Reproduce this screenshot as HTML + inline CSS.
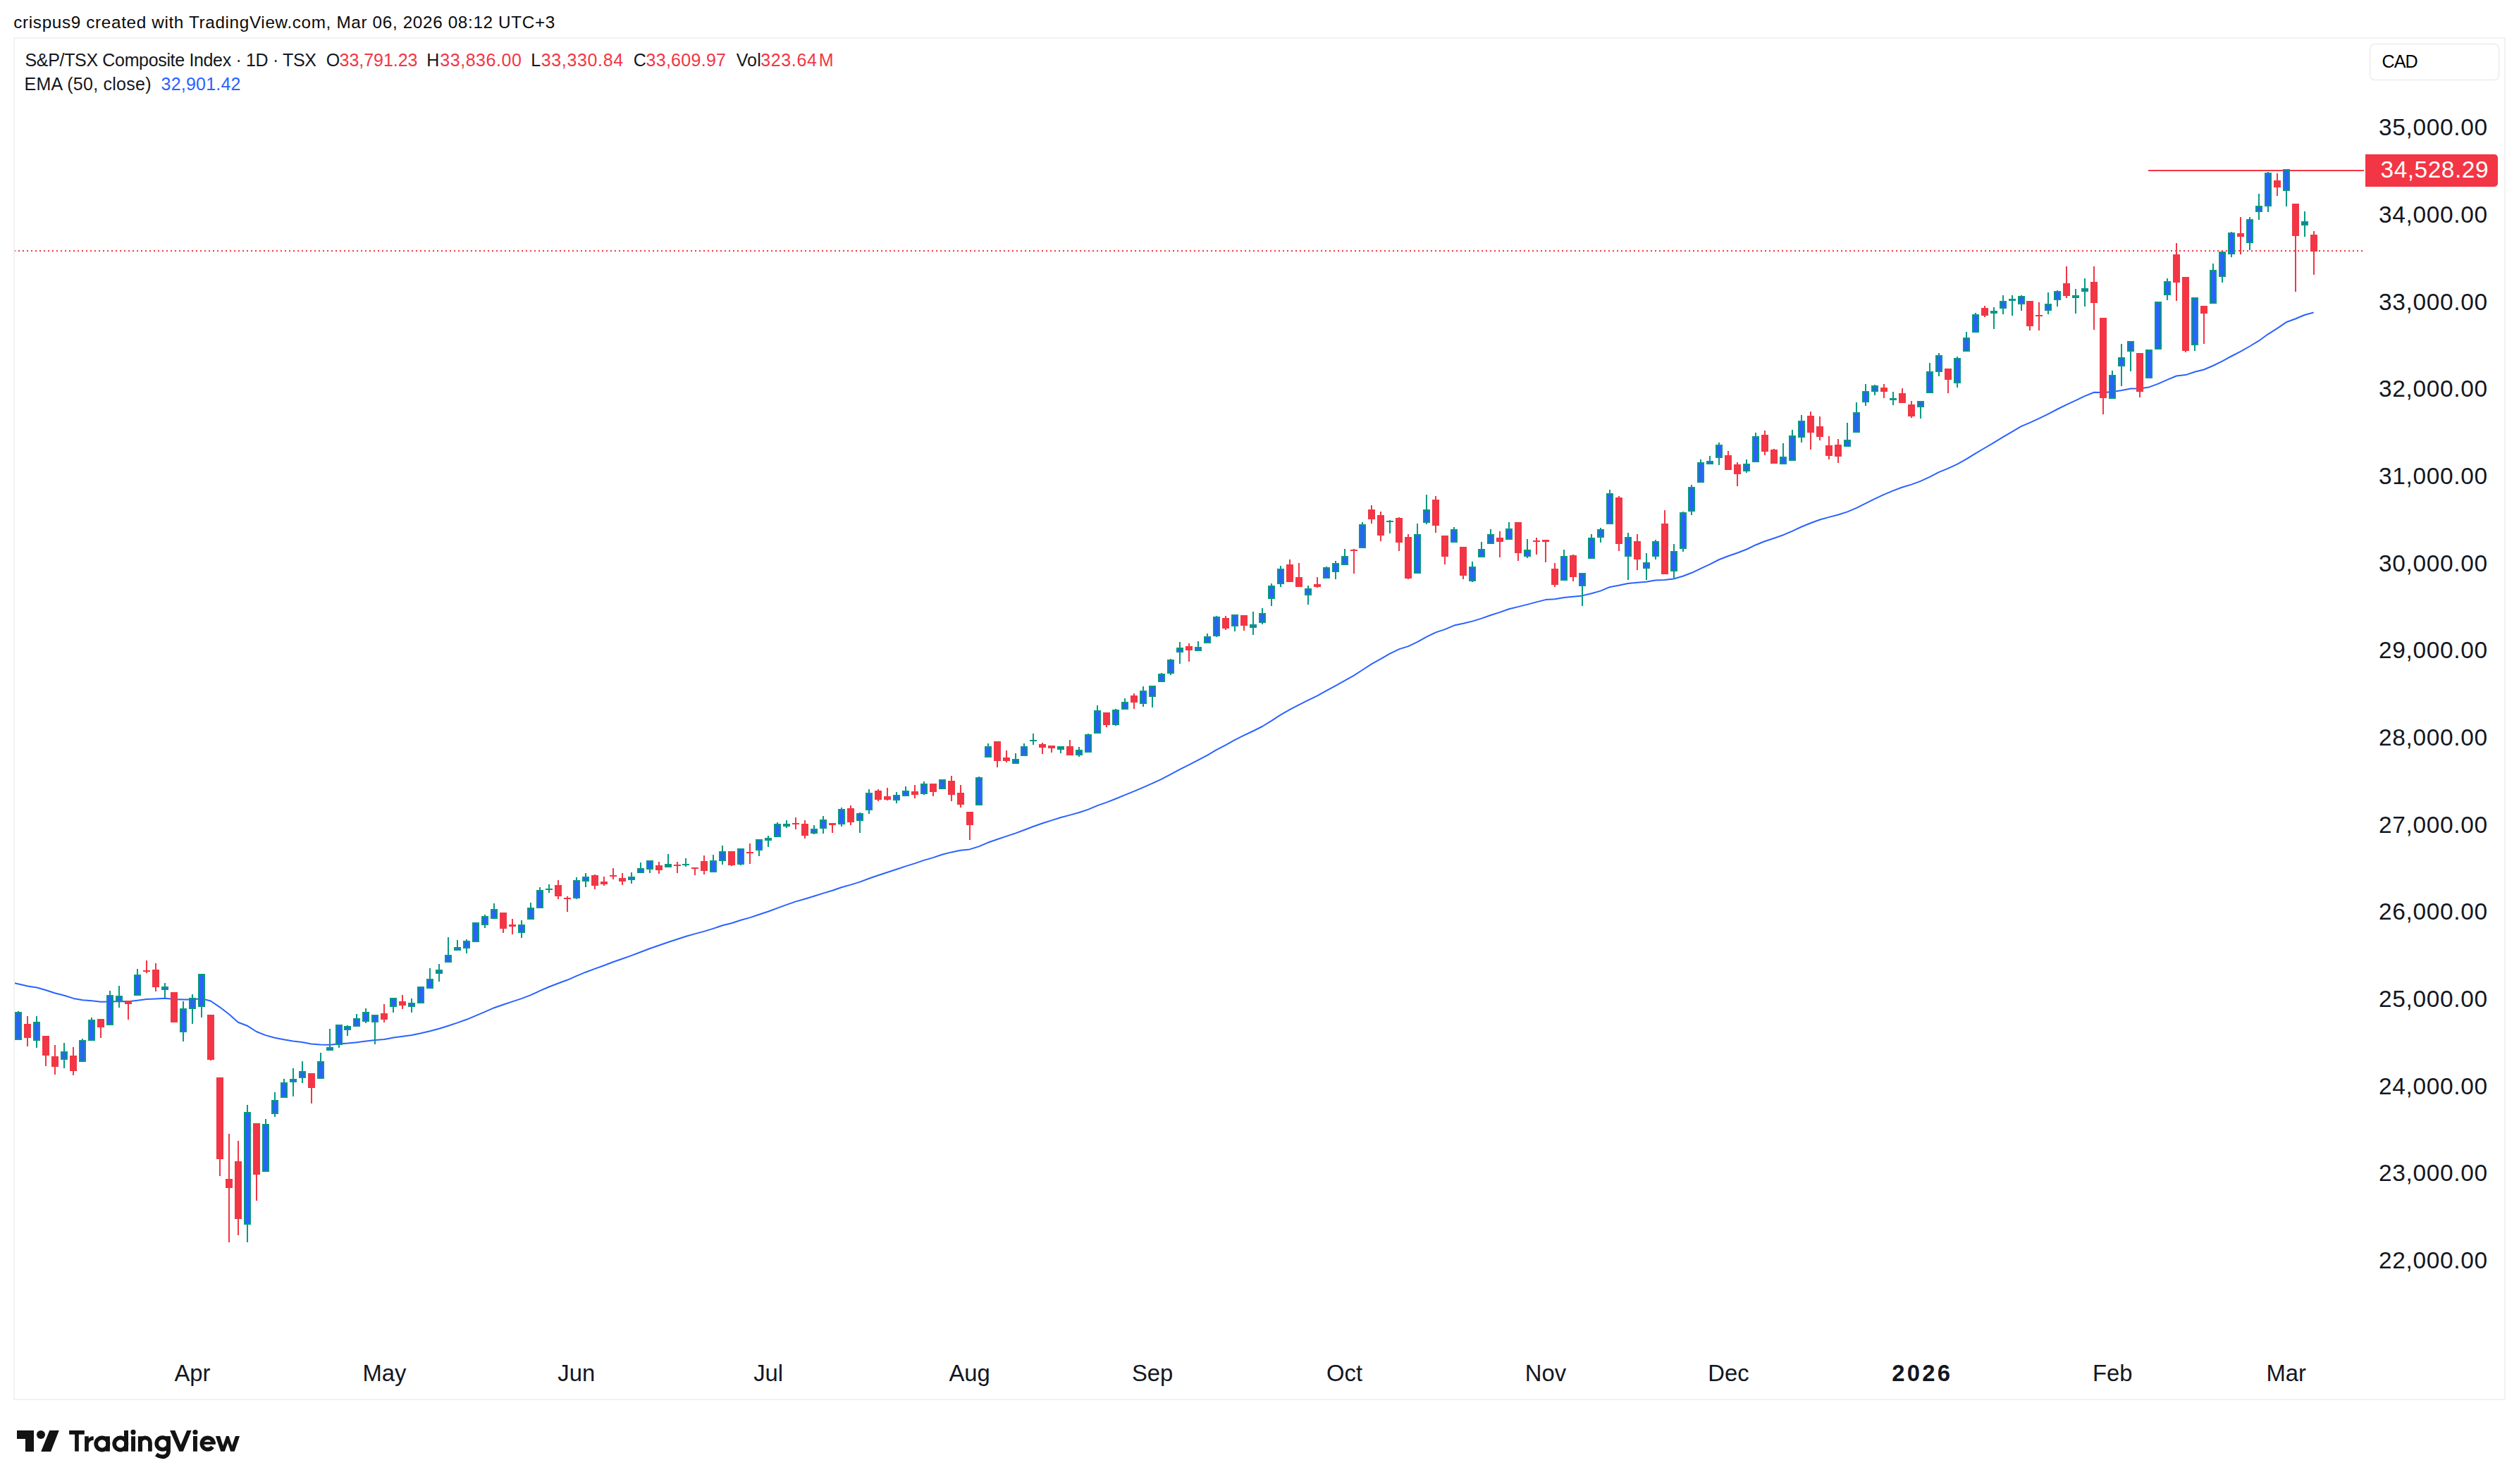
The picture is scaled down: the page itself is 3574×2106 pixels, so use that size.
<!DOCTYPE html>
<html><head><meta charset="utf-8"><title>S&amp;P/TSX Composite Index chart</title>
<style>html,body{margin:0;padding:0;background:#fff;width:3574px;height:2106px;overflow:hidden}body{position:relative;font-family:"Liberation Sans",sans-serif}</style>
</head><body>
<svg width="3574" height="2106" viewBox="0 0 3574 2106" style="position:absolute;left:0;top:0"><defs><clipPath id="pc"><rect x="21" y="55" width="3333" height="1930"/></clipPath></defs><rect x="20" y="54" width="3534" height="1932" fill="none" stroke="#F2F2F2" stroke-width="2"/><g clip-path="url(#pc)" shape-rendering="crispEdges"><line x1="20" y1="356" x2="3354" y2="356" stroke="#F23645" stroke-width="2" stroke-dasharray="2 4"/><rect x="3048" y="241" width="306" height="2" fill="#F23645"/></g><g clip-path="url(#pc)"><path d="M13.5,1393.5 L26.5,1396.5 L39.5,1399.5 L52.4,1401.5 L65.4,1405.2 L78.4,1409.5 L91.3,1412.7 L104.3,1416.9 L117.3,1419.2 L130.3,1420.3 L143.2,1421.8 L156.2,1421.4 L169.2,1421.1 L182.2,1421.2 L195.1,1419.7 L208.1,1418.1 L221.1,1417.4 L234.0,1416.8 L247.0,1418.1 L260.0,1418.6 L273.0,1418.5 L285.9,1417.1 L298.9,1420.5 L311.9,1429.3 L324.9,1439.3 L337.8,1450.7 L350.8,1455.7 L363.8,1464.0 L376.7,1469.1 L389.7,1472.7 L402.7,1475.2 L415.7,1477.4 L428.6,1479.1 L441.6,1481.6 L454.6,1482.6 L467.6,1482.7 L480.5,1481.6 L493.5,1480.6 L506.5,1479.2 L519.4,1477.6 L532.4,1476.1 L545.4,1474.9 L558.4,1472.6 L571.3,1470.8 L584.3,1468.9 L597.3,1466.3 L610.3,1463.2 L623.2,1459.8 L636.2,1455.7 L649.2,1451.4 L662.1,1446.8 L675.1,1441.4 L688.1,1435.9 L701.1,1430.2 L714.0,1425.7 L727.0,1421.4 L740.0,1417.1 L753.0,1412.1 L765.9,1406.2 L778.9,1400.5 L791.9,1395.5 L804.8,1390.8 L817.8,1385.2 L830.8,1379.7 L843.8,1374.9 L856.7,1370.2 L869.7,1365.2 L882.7,1360.7 L895.7,1356.1 L908.6,1351.3 L921.6,1346.2 L934.6,1341.8 L947.5,1337.3 L960.5,1333.0 L973.5,1328.8 L986.5,1325.1 L999.4,1321.6 L1012.4,1317.6 L1025.4,1313.3 L1038.4,1310.0 L1051.3,1305.8 L1064.3,1302.1 L1077.3,1297.8 L1090.2,1293.5 L1103.2,1288.6 L1116.2,1283.9 L1129.2,1279.4 L1142.1,1275.7 L1155.1,1271.8 L1168.1,1267.6 L1181.1,1263.8 L1194.0,1259.2 L1207.0,1255.6 L1220.0,1251.6 L1232.9,1246.7 L1245.9,1242.3 L1258.9,1238.0 L1271.9,1233.7 L1284.8,1229.4 L1297.8,1225.4 L1310.8,1220.9 L1323.8,1217.1 L1336.7,1212.8 L1349.7,1209.4 L1362.7,1206.8 L1375.6,1205.4 L1388.6,1201.4 L1401.6,1195.8 L1414.6,1191.2 L1427.5,1186.9 L1440.5,1182.6 L1453.5,1177.7 L1466.5,1172.7 L1479.4,1168.3 L1492.4,1164.1 L1505.4,1160.0 L1518.3,1156.6 L1531.3,1153.0 L1544.3,1148.6 L1557.3,1143.1 L1570.2,1138.6 L1583.2,1133.5 L1596.2,1128.1 L1609.2,1122.9 L1622.1,1117.3 L1635.1,1111.7 L1648.1,1105.6 L1661.0,1098.9 L1674.0,1091.9 L1687.0,1085.3 L1700.0,1078.7 L1712.9,1071.8 L1725.9,1064.1 L1738.9,1057.3 L1751.9,1050.1 L1764.8,1043.7 L1777.8,1037.5 L1790.8,1031.0 L1803.7,1023.1 L1816.7,1014.6 L1829.7,1007.2 L1842.7,1000.4 L1855.6,993.9 L1868.6,987.6 L1881.6,980.4 L1894.6,973.3 L1907.5,966.1 L1920.5,958.9 L1933.5,950.5 L1946.4,942.1 L1959.4,934.9 L1972.4,927.3 L1985.4,921.1 L1998.3,917.1 L2011.3,910.9 L2024.3,903.6 L2037.3,897.4 L2050.2,893.1 L2063.2,887.6 L2076.2,884.8 L2089.1,881.6 L2102.1,877.6 L2115.1,873.0 L2128.1,868.9 L2141.0,864.2 L2154.0,861.1 L2167.0,857.9 L2180.0,854.4 L2192.9,851.1 L2205.9,850.2 L2218.9,847.9 L2231.8,846.7 L2244.8,845.4 L2257.8,842.2 L2270.8,838.6 L2283.7,833.2 L2296.7,830.8 L2309.7,828.1 L2322.7,826.8 L2335.6,825.7 L2348.6,823.4 L2361.6,823.1 L2374.5,821.5 L2387.5,817.8 L2400.5,812.8 L2413.5,806.6 L2426.4,800.7 L2439.4,794.0 L2452.4,789.0 L2465.4,784.5 L2478.3,779.5 L2491.3,773.2 L2504.3,768.0 L2517.3,763.7 L2530.2,759.2 L2543.2,753.6 L2556.2,747.5 L2569.1,742.3 L2582.1,737.5 L2595.1,733.9 L2608.1,730.5 L2621.0,726.4 L2634.0,720.8 L2647.0,714.3 L2660.0,707.8 L2672.9,701.8 L2685.9,696.4 L2698.9,691.5 L2711.8,687.6 L2724.8,682.9 L2737.8,676.8 L2750.8,670.1 L2763.7,664.9 L2776.7,658.8 L2789.7,651.7 L2802.7,643.6 L2815.6,636.0 L2828.6,628.3 L2841.6,620.4 L2854.5,612.8 L2867.5,605.2 L2880.5,599.6 L2893.5,593.7 L2906.4,587.3 L2919.4,580.5 L2932.4,574.2 L2945.4,568.1 L2958.3,561.9 L2971.3,556.7 L2984.3,557.0 L2997.2,556.0 L3010.2,554.1 L3023.2,551.4 L3036.2,551.5 L3049.1,549.4 L3062.1,544.6 L3075.1,538.9 L3088.1,533.5 L3101.0,532.1 L3114.0,527.8 L3127.0,524.5 L3139.9,519.0 L3152.9,512.6 L3165.9,505.5 L3178.9,498.8 L3191.8,491.5 L3204.8,483.7 L3217.8,474.3 L3230.8,466.1 L3243.7,457.3 L3256.7,452.5 L3269.7,447.0 L3282.6,443.5" fill="none" stroke="#2962FF" stroke-width="2" stroke-linejoin="round"/></g><g clip-path="url(#pc)" shape-rendering="crispEdges"><path d="M25,1435h2v41h-2zM21,1436h10v40h-10zM51,1442h2v45h-2zM47,1450h10v27h-10zM90,1480h2v36h-2zM86,1492h10v12h-10zM116,1474h2v33h-2zM112,1476h10v31h-10zM129,1444h2v33h-2zM125,1447h10v30h-10zM155,1406h2v49h-2zM151,1412h10v43h-10zM168,1399h2v31h-2zM164,1413h10v9h-10zM194,1375h2v38h-2zM190,1383h10v30h-10zM233,1395h2v21h-2zM229,1400h10v5h-10zM259,1421h2v57h-2zM255,1431h10v34h-10zM272,1411h2v42h-2zM268,1416h10v16h-10zM285,1382h2v62h-2zM281,1382h10v47h-10zM350,1568h2v195h-2zM346,1578h10v160h-10zM376,1588h2v75h-2zM372,1595h10v68h-10zM389,1550h2v35h-2zM385,1561h10v20h-10zM402,1531h2v27h-2zM398,1536h10v22h-10zM415,1516h2v40h-2zM411,1531h10v5h-10zM428,1506h2v31h-2zM424,1520h10v10h-10zM454,1494h2v37h-2zM450,1506h10v25h-10zM467,1460h2v31h-2zM463,1486h10v5h-10zM480,1454h2v33h-2zM476,1454h10v29h-10zM492,1455h2v15h-2zM488,1456h10v6h-10zM505,1439h2v18h-2zM501,1445h10v12h-10zM518,1431h2v21h-2zM514,1436h10v14h-10zM531,1440h2v42h-2zM527,1440h10v11h-10zM557,1416h2v21h-2zM553,1416h10v13h-10zM583,1417h2v20h-2zM579,1423h10v6h-10zM596,1400h2v24h-2zM592,1400h10v24h-10zM609,1374h2v29h-2zM605,1389h10v14h-10zM622,1368h2v25h-2zM618,1376h10v6h-10zM635,1330h2v36h-2zM631,1355h10v11h-10zM648,1334h2v15h-2zM644,1344h10v5h-10zM661,1333h2v20h-2zM657,1335h10v11h-10zM674,1309h2v28h-2zM670,1309h10v28h-10zM687,1298h2v19h-2zM683,1300h10v13h-10zM700,1282h2v22h-2zM696,1290h10v14h-10zM739,1306h2v25h-2zM735,1312h10v12h-10zM752,1281h2v24h-2zM748,1288h10v17h-10zM765,1259h2v30h-2zM761,1263h10v26h-10zM778,1255h2v12h-2zM774,1261h10v2h-10zM817,1245h2v31h-2zM813,1249h10v26h-10zM830,1239h2v20h-2zM826,1244h10v7h-10zM895,1238h2v16h-2zM891,1244h10v5h-10zM908,1224h2v15h-2zM904,1232h10v7h-10zM921,1221h2v18h-2zM917,1221h10v13h-10zM947,1212h2v19h-2zM943,1226h10v5h-10zM972,1218h2v12h-2zM968,1226h10v2h-10zM1011,1213h2v25h-2zM1007,1221h10v17h-10zM1024,1200h2v27h-2zM1020,1208h10v14h-10zM1050,1204h2v24h-2zM1046,1204h10v23h-10zM1076,1191h2v24h-2zM1072,1191h10v16h-10zM1089,1186h2v16h-2zM1085,1189h10v4h-10zM1102,1167h2v21h-2zM1098,1169h10v19h-10zM1115,1164h2v11h-2zM1111,1169h10v4h-10zM1154,1171h2v13h-2zM1150,1176h10v7h-10zM1167,1158h2v25h-2zM1163,1163h10v13h-10zM1193,1146h2v27h-2zM1189,1148h10v22h-10zM1219,1153h2v29h-2zM1215,1154h10v11h-10zM1232,1120h2v35h-2zM1228,1125h10v25h-10zM1271,1124h2v16h-2zM1267,1128h10v8h-10zM1284,1116h2v14h-2zM1280,1122h10v8h-10zM1310,1109h2v19h-2zM1306,1112h10v15h-10zM1336,1106h2v14h-2zM1332,1106h10v14h-10zM1388,1102h2v41h-2zM1384,1103h10v40h-10zM1401,1055h2v20h-2zM1397,1059h10v16h-10zM1440,1069h2v15h-2zM1436,1077h10v7h-10zM1452,1055h2v18h-2zM1448,1059h10v14h-10zM1465,1041h2v16h-2zM1461,1050h10v2h-10zM1504,1059h2v10h-2zM1500,1059h10v5h-10zM1530,1060h2v14h-2zM1526,1064h10v8h-10zM1543,1041h2v27h-2zM1539,1042h10v26h-10zM1556,1001h2v40h-2zM1552,1008h10v33h-10zM1582,1006h2v24h-2zM1578,1007h10v22h-10zM1595,991h2v16h-2zM1591,996h10v11h-10zM1621,974h2v29h-2zM1617,980h10v19h-10zM1634,973h2v31h-2zM1630,973h10v16h-10zM1647,955h2v13h-2zM1643,956h10v12h-10zM1660,935h2v23h-2zM1656,936h10v20h-10zM1673,911h2v31h-2zM1669,919h10v7h-10zM1699,910h2v14h-2zM1695,918h10v6h-10zM1712,899h2v14h-2zM1708,903h10v10h-10zM1725,874h2v30h-2zM1721,875h10v28h-10zM1751,872h2v24h-2zM1747,872h10v17h-10zM1777,868h2v33h-2zM1773,886h10v5h-10zM1790,863h2v23h-2zM1786,870h10v14h-10zM1803,828h2v32h-2zM1799,831h10v19h-10zM1816,803h2v30h-2zM1812,807h10v22h-10zM1855,831h2v27h-2zM1851,835h10v10h-10zM1881,804h2v17h-2zM1877,805h10v16h-10zM1894,796h2v26h-2zM1890,799h10v13h-10zM1907,779h2v23h-2zM1903,789h10v13h-10zM1932,741h2v37h-2zM1928,744h10v34h-10zM1971,738h2v19h-2zM1967,739h10v2h-10zM2010,743h2v71h-2zM2006,758h10v56h-10zM2023,702h2v42h-2zM2019,723h10v19h-10zM2062,748h2v22h-2zM2058,751h10v19h-10zM2088,797h2v29h-2zM2084,804h10v21h-10zM2101,769h2v22h-2zM2097,779h10v12h-10zM2114,751h2v21h-2zM2110,758h10v14h-10zM2140,741h2v25h-2zM2136,750h10v16h-10zM2166,765h2v27h-2zM2162,780h10v10h-10zM2218,780h2v44h-2zM2214,789h10v35h-10zM2244,813h2v47h-2zM2240,813h10v19h-10zM2257,758h2v35h-2zM2253,763h10v30h-10zM2270,749h2v21h-2zM2266,751h10v12h-10zM2283,695h2v49h-2zM2279,700h10v44h-10zM2309,756h2v67h-2zM2305,762h10v28h-10zM2335,785h2v38h-2zM2331,798h10v9h-10zM2348,766h2v28h-2zM2344,768h10v22h-10zM2374,772h2v50h-2zM2370,782h10v29h-10zM2387,726h2v57h-2zM2383,727h10v52h-10zM2399,688h2v43h-2zM2395,691h10v35h-10zM2412,652h2v33h-2zM2408,656h10v29h-10zM2425,647h2v12h-2zM2421,654h10v5h-10zM2438,628h2v32h-2zM2434,631h10v19h-10zM2477,652h2v19h-2zM2473,658h10v11h-10zM2490,614h2v42h-2zM2486,619h10v37h-10zM2529,629h2v30h-2zM2525,648h10v11h-10zM2542,610h2v44h-2zM2538,618h10v36h-10zM2555,589h2v39h-2zM2551,597h10v24h-10zM2620,600h2v34h-2zM2616,624h10v10h-10zM2633,571h2v43h-2zM2629,585h10v29h-10zM2646,545h2v31h-2zM2642,555h10v16h-10zM2659,546h2v15h-2zM2655,547h10v9h-10zM2685,556h2v19h-2zM2681,565h10v3h-10zM2724,569h2v25h-2zM2720,569h10v9h-10zM2737,515h2v43h-2zM2733,527h10v31h-10zM2750,501h2v33h-2zM2746,504h10v24h-10zM2776,506h2v44h-2zM2772,508h10v36h-10zM2789,471h2v28h-2zM2785,479h10v20h-10zM2802,444h2v28h-2zM2798,446h10v26h-10zM2828,436h2v31h-2zM2824,441h10v4h-10zM2841,419h2v27h-2zM2837,427h10v11h-10zM2854,419h2v29h-2zM2850,424h10v3h-10zM2867,419h2v22h-2zM2863,420h10v12h-10zM2905,415h2v31h-2zM2901,431h10v10h-10zM2918,412h2v23h-2zM2914,413h10v13h-10zM2944,410h2v35h-2zM2940,419h10v4h-10zM2957,395h2v40h-2zM2953,409h10v5h-10zM2996,526h2v40h-2zM2992,532h10v34h-10zM3009,488h2v60h-2zM3005,507h10v13h-10zM3022,484h2v43h-2zM3018,484h10v15h-10zM3048,496h2v41h-2zM3044,496h10v41h-10zM3061,428h2v68h-2zM3057,428h10v68h-10zM3074,395h2v31h-2zM3070,399h10v20h-10zM3113,422h2v76h-2zM3109,422h10v68h-10zM3139,374h2v57h-2zM3135,383h10v48h-10zM3152,357h2v44h-2zM3148,357h10v36h-10zM3165,329h2v36h-2zM3161,330h10v31h-10zM3191,308h2v47h-2zM3187,311h10v34h-10zM3204,275h2v37h-2zM3200,292h10v9h-10zM3217,244h2v57h-2zM3213,245h10v48h-10zM3243,240h2v53h-2zM3239,240h10v31h-10zM3269,300h2v36h-2zM3265,314h10v6h-10z" fill="#089981"/><path d="M23,1438h6v36h-6zM49,1452h6v23h-6zM88,1494h6v8h-6zM114,1478h6v27h-6zM127,1449h6v26h-6zM153,1414h6v39h-6zM166,1415h6v5h-6zM192,1385h6v26h-6zM231,1402h6v1h-6zM257,1433h6v30h-6zM270,1418h6v12h-6zM283,1384h6v43h-6zM348,1580h6v156h-6zM374,1597h6v64h-6zM387,1563h6v16h-6zM400,1538h6v18h-6zM413,1533h6v1h-6zM426,1522h6v6h-6zM452,1508h6v21h-6zM465,1488h6v1h-6zM478,1456h6v25h-6zM490,1458h6v2h-6zM503,1447h6v8h-6zM516,1438h6v10h-6zM529,1442h6v7h-6zM555,1418h6v9h-6zM581,1425h6v2h-6zM594,1402h6v20h-6zM607,1391h6v10h-6zM620,1378h6v2h-6zM633,1357h6v7h-6zM646,1346h6v1h-6zM659,1337h6v7h-6zM672,1311h6v24h-6zM685,1302h6v9h-6zM698,1292h6v10h-6zM737,1314h6v8h-6zM750,1290h6v13h-6zM763,1265h6v22h-6zM815,1251h6v22h-6zM828,1246h6v3h-6zM893,1246h6v1h-6zM906,1234h6v3h-6zM919,1223h6v9h-6zM945,1228h6v1h-6zM1009,1223h6v13h-6zM1022,1210h6v10h-6zM1048,1206h6v19h-6zM1074,1193h6v12h-6zM1100,1171h6v15h-6zM1152,1178h6v3h-6zM1165,1165h6v9h-6zM1191,1150h6v18h-6zM1217,1156h6v7h-6zM1230,1127h6v21h-6zM1269,1130h6v4h-6zM1282,1124h6v4h-6zM1308,1114h6v11h-6zM1334,1108h6v10h-6zM1386,1105h6v36h-6zM1399,1061h6v12h-6zM1438,1079h6v3h-6zM1450,1061h6v10h-6zM1502,1061h6v1h-6zM1528,1066h6v4h-6zM1541,1044h6v22h-6zM1554,1010h6v29h-6zM1580,1009h6v18h-6zM1593,998h6v7h-6zM1619,982h6v15h-6zM1632,975h6v12h-6zM1645,958h6v8h-6zM1658,938h6v16h-6zM1671,921h6v3h-6zM1697,920h6v2h-6zM1710,905h6v6h-6zM1723,877h6v24h-6zM1749,874h6v13h-6zM1775,888h6v1h-6zM1788,872h6v10h-6zM1801,833h6v15h-6zM1814,809h6v18h-6zM1853,837h6v6h-6zM1879,807h6v12h-6zM1892,801h6v9h-6zM1905,791h6v9h-6zM1930,746h6v30h-6zM2008,760h6v52h-6zM2021,725h6v15h-6zM2060,753h6v15h-6zM2086,806h6v17h-6zM2099,781h6v8h-6zM2112,760h6v10h-6zM2138,752h6v12h-6zM2164,782h6v6h-6zM2216,791h6v31h-6zM2242,815h6v15h-6zM2255,765h6v26h-6zM2268,753h6v8h-6zM2281,702h6v40h-6zM2307,764h6v24h-6zM2333,800h6v5h-6zM2346,770h6v18h-6zM2372,784h6v25h-6zM2385,729h6v48h-6zM2397,693h6v31h-6zM2410,658h6v25h-6zM2423,656h6v1h-6zM2436,633h6v15h-6zM2475,660h6v7h-6zM2488,621h6v33h-6zM2527,650h6v7h-6zM2540,620h6v32h-6zM2553,599h6v20h-6zM2618,626h6v6h-6zM2631,587h6v25h-6zM2644,557h6v12h-6zM2657,549h6v5h-6zM2722,571h6v5h-6zM2735,529h6v27h-6zM2748,506h6v20h-6zM2774,510h6v32h-6zM2787,481h6v16h-6zM2800,448h6v22h-6zM2839,429h6v7h-6zM2865,422h6v8h-6zM2903,433h6v6h-6zM2916,415h6v9h-6zM2955,411h6v1h-6zM2994,534h6v30h-6zM3007,509h6v9h-6zM3020,486h6v11h-6zM3046,498h6v37h-6zM3059,430h6v64h-6zM3072,401h6v16h-6zM3111,424h6v64h-6zM3137,385h6v44h-6zM3150,359h6v32h-6zM3163,332h6v27h-6zM3189,313h6v30h-6zM3202,294h6v5h-6zM3215,247h6v44h-6zM3241,242h6v27h-6zM3267,316h6v2h-6z" fill="#2962FF"/><path d="M38,1442h2v43h-2zM34,1453h10v20h-10zM64,1470h2v43h-2zM60,1470h10v28h-10zM77,1483h2v42h-2zM73,1499h10v15h-10zM103,1486h2v40h-2zM99,1498h10v22h-10zM142,1446h2v27h-2zM138,1446h10v12h-10zM181,1420h2v27h-2zM177,1420h10v5h-10zM207,1363h2v18h-2zM203,1377h10v2h-10zM220,1367h2v40h-2zM216,1376h10v25h-10zM246,1408h2v43h-2zM242,1408h10v43h-10zM298,1440h2v65h-2zM294,1440h10v64h-10zM311,1529h2v140h-2zM307,1529h10v116h-10zM324,1609h2v154h-2zM320,1673h10v13h-10zM337,1619h2v134h-2zM333,1648h10v82h-10zM363,1594h2v110h-2zM359,1594h10v73h-10zM441,1523h2v43h-2zM437,1523h10v21h-10zM544,1425h2v26h-2zM540,1438h10v9h-10zM570,1412h2v20h-2zM566,1421h10v6h-10zM713,1295h2v29h-2zM709,1295h10v23h-10zM726,1304h2v22h-2zM722,1312h10v3h-10zM791,1249h2v27h-2zM787,1256h10v16h-10zM804,1272h2v22h-2zM800,1274h10v2h-10zM843,1241h2v21h-2zM839,1242h10v15h-10zM856,1244h2v13h-2zM852,1251h10v4h-10zM869,1232h2v16h-2zM865,1242h10v2h-10zM882,1239h2v17h-2zM878,1246h10v5h-10zM934,1223h2v17h-2zM930,1228h10v7h-10zM960,1223h2v16h-2zM956,1227h10v2h-10zM985,1231h2v11h-2zM981,1231h10v2h-10zM998,1214h2v27h-2zM994,1222h10v14h-10zM1037,1208h2v21h-2zM1033,1208h10v20h-10zM1063,1197h2v29h-2zM1059,1209h10v2h-10zM1128,1160h2v17h-2zM1124,1168h10v2h-10zM1141,1164h2v26h-2zM1137,1169h10v17h-10zM1180,1168h2v14h-2zM1176,1168h10v3h-10zM1206,1143h2v28h-2zM1202,1147h10v20h-10zM1245,1120h2v17h-2zM1241,1122h10v13h-10zM1258,1118h2v18h-2zM1254,1130h10v5h-10zM1297,1114h2v19h-2zM1293,1123h10v5h-10zM1323,1112h2v18h-2zM1319,1112h10v12h-10zM1349,1101h2v36h-2zM1345,1108h10v20h-10zM1362,1114h2v32h-2zM1358,1125h10v17h-10zM1375,1152h2v40h-2zM1371,1152h10v19h-10zM1414,1052h2v37h-2zM1410,1052h10v28h-10zM1427,1065h2v17h-2zM1423,1075h10v5h-10zM1478,1054h2v16h-2zM1474,1056h10v5h-10zM1491,1058h2v10h-2zM1487,1058h10v4h-10zM1517,1050h2v22h-2zM1513,1059h10v13h-10zM1569,1011h2v21h-2zM1565,1011h10v18h-10zM1608,984h2v22h-2zM1604,987h10v10h-10zM1686,913h2v26h-2zM1682,917h10v6h-10zM1738,874h2v20h-2zM1734,877h10v15h-10zM1764,873h2v22h-2zM1760,873h10v15h-10zM1829,794h2v32h-2zM1825,801h10v25h-10zM1842,799h2v34h-2zM1838,819h10v14h-10zM1868,819h2v15h-2zM1864,829h10v4h-10zM1920,779h2v35h-2zM1916,780h10v2h-10zM1945,717h2v26h-2zM1941,723h10v14h-10zM1958,726h2v42h-2zM1954,731h10v29h-10zM1984,734h2v48h-2zM1980,735h10v35h-10zM1997,758h2v64h-2zM1993,762h10v59h-10zM2036,704h2v52h-2zM2032,709h10v37h-10zM2049,760h2v41h-2zM2045,760h10v30h-10zM2075,776h2v46h-2zM2071,776h10v41h-10zM2127,754h2v37h-2zM2123,763h10v6h-10zM2153,741h2v55h-2zM2149,741h10v44h-10zM2179,763h2v24h-2zM2175,767h10v2h-10zM2192,766h2v32h-2zM2188,766h10v3h-10zM2205,799h2v34h-2zM2201,807h10v23h-10zM2231,787h2v38h-2zM2227,788h10v31h-10zM2296,704h2v78h-2zM2292,706h10v66h-10zM2322,758h2v51h-2zM2318,768h10v26h-10zM2361,724h2v91h-2zM2357,743h10v72h-10zM2451,640h2v27h-2zM2447,646h10v21h-10zM2464,656h2v34h-2zM2460,659h10v14h-10zM2503,611h2v35h-2zM2499,617h10v24h-10zM2516,637h2v21h-2zM2512,638h10v20h-10zM2568,584h2v54h-2zM2564,590h10v24h-10zM2581,591h2v34h-2zM2577,605h10v15h-10zM2594,619h2v33h-2zM2590,632h10v15h-10zM2607,623h2v34h-2zM2603,631h10v17h-10zM2672,545h2v20h-2zM2668,550h10v6h-10zM2698,551h2v21h-2zM2694,558h10v14h-10zM2711,569h2v24h-2zM2707,574h10v17h-10zM2763,523h2v35h-2zM2759,523h10v16h-10zM2815,434h2v16h-2zM2811,437h10v11h-10zM2879,427h2v42h-2zM2875,427h10v36h-10zM2892,429h2v40h-2zM2888,447h10v2h-10zM2931,378h2v45h-2zM2927,402h10v18h-10zM2970,378h2v90h-2zM2966,400h10v30h-10zM2983,451h2v137h-2zM2979,451h10v114h-10zM3035,501h2v63h-2zM3031,501h10v55h-10zM3087,345h2v82h-2zM3083,361h10v40h-10zM3100,393h2v107h-2zM3096,393h10v105h-10zM3126,434h2v54h-2zM3122,434h10v11h-10zM3178,308h2v53h-2zM3174,331h10v5h-10zM3230,246h2v32h-2zM3226,256h10v10h-10zM3256,289h2v125h-2zM3252,289h10v46h-10zM3282,328h2v62h-2zM3278,333h10v24h-10z" fill="#F23645"/></g><rect x="3362.5" y="62.5" width="183" height="51" rx="7" fill="#fff" stroke="#F0F0F0" stroke-width="2"/><path d="M3356,219 H3539 a5,5 0 0 1 5,5 V260 a5,5 0 0 1 -5,5 H3356 Z" fill="#F23645"/><g font-family="Liberation Sans, sans-serif"><text x="19.30" y="40" font-size="24.3" fill="#0B0B0B" textLength="768.00" lengthAdjust="spacing">crispus9 created with TradingView.com, Mar 06, 2026 08:12 UTC+3</text><text x="35.50" y="94.2" font-size="25" fill="#131722" textLength="413.50" lengthAdjust="spacing">S&amp;P/TSX Composite Index · 1D · TSX</text><text x="462.70" y="94.2" font-size="25" fill="#131722">O</text><text x="481.50" y="94.2" font-size="25" fill="#F23645" textLength="111.00" lengthAdjust="spacing">33,791.23</text><text x="605.30" y="94.2" font-size="25" fill="#131722">H</text><text x="624.30" y="94.2" font-size="25" fill="#F23645" textLength="115.50" lengthAdjust="spacing">33,836.00</text><text x="753.30" y="94.2" font-size="25" fill="#131722">L</text><text x="767.70" y="94.2" font-size="25" fill="#F23645" textLength="116.50" lengthAdjust="spacing">33,330.84</text><text x="898.70" y="94.2" font-size="25" fill="#131722">C</text><text x="916.50" y="94.2" font-size="25" fill="#F23645" textLength="113.50" lengthAdjust="spacing">33,609.97</text><text x="1044.70" y="94.2" font-size="25" fill="#131722" textLength="35.00" lengthAdjust="spacing">Vol</text><text x="1079.30" y="94.2" font-size="25" fill="#F23645" textLength="79.50" lengthAdjust="spacing">323.64</text><text x="1161.70" y="94.2" font-size="25" fill="#F23645">M</text><text x="34.50" y="128.3" font-size="25" fill="#131722" textLength="180.00" lengthAdjust="spacing">EMA (50, close)</text><text x="228.50" y="128.3" font-size="25" fill="#2962FF" textLength="113.00" lengthAdjust="spacing">32,901.42</text><text x="3379.50" y="95.9" font-size="25.1" fill="#000" textLength="51.00" lengthAdjust="spacing">CAD</text><text x="3377.50" y="251.6" font-size="33.4" fill="#fff" textLength="153.00" lengthAdjust="spacing">34,528.29</text><text x="3375.00" y="1800.0" font-size="33.4" fill="#131722" textLength="154.00" lengthAdjust="spacing">22,000.00</text><text x="3375.00" y="1676.3" font-size="33.4" fill="#131722" textLength="154.00" lengthAdjust="spacing">23,000.00</text><text x="3375.00" y="1552.7" font-size="33.4" fill="#131722" textLength="154.00" lengthAdjust="spacing">24,000.00</text><text x="3375.00" y="1429.0" font-size="33.4" fill="#131722" textLength="154.00" lengthAdjust="spacing">25,000.00</text><text x="3375.00" y="1305.3" font-size="33.4" fill="#131722" textLength="154.00" lengthAdjust="spacing">26,000.00</text><text x="3375.00" y="1181.7" font-size="33.4" fill="#131722" textLength="154.00" lengthAdjust="spacing">27,000.00</text><text x="3375.00" y="1058.0" font-size="33.4" fill="#131722" textLength="154.00" lengthAdjust="spacing">28,000.00</text><text x="3375.00" y="934.3" font-size="33.4" fill="#131722" textLength="154.00" lengthAdjust="spacing">29,000.00</text><text x="3375.00" y="810.7" font-size="33.4" fill="#131722" textLength="154.00" lengthAdjust="spacing">30,000.00</text><text x="3375.00" y="687.0" font-size="33.4" fill="#131722" textLength="154.00" lengthAdjust="spacing">31,000.00</text><text x="3375.00" y="563.3" font-size="33.4" fill="#131722" textLength="154.00" lengthAdjust="spacing">32,000.00</text><text x="3375.00" y="439.6" font-size="33.4" fill="#131722" textLength="154.00" lengthAdjust="spacing">33,000.00</text><text x="3375.00" y="316.0" font-size="33.4" fill="#131722" textLength="154.00" lengthAdjust="spacing">34,000.00</text><text x="3375.00" y="192.3" font-size="33.4" fill="#131722" textLength="154.00" lengthAdjust="spacing">35,000.00</text><text x="273.0" y="1959.8" font-size="32.8" fill="#131722" text-anchor="middle" letter-spacing="0">Apr</text><text x="545.4" y="1959.8" font-size="32.8" fill="#131722" text-anchor="middle" letter-spacing="0">May</text><text x="817.8" y="1959.8" font-size="32.8" fill="#131722" text-anchor="middle" letter-spacing="0">Jun</text><text x="1090.2" y="1959.8" font-size="32.8" fill="#131722" text-anchor="middle" letter-spacing="0">Jul</text><text x="1375.6" y="1959.8" font-size="32.8" fill="#131722" text-anchor="middle" letter-spacing="0">Aug</text><text x="1635.1" y="1959.8" font-size="32.8" fill="#131722" text-anchor="middle" letter-spacing="0">Sep</text><text x="1907.5" y="1959.8" font-size="32.8" fill="#131722" text-anchor="middle" letter-spacing="0">Oct</text><text x="2192.9" y="1959.8" font-size="32.8" fill="#131722" text-anchor="middle" letter-spacing="0">Nov</text><text x="2452.4" y="1959.8" font-size="32.8" fill="#131722" text-anchor="middle" letter-spacing="0">Dec</text><text x="2727.3" y="1959.8" font-size="32.8" font-weight="bold" fill="#131722" text-anchor="middle" letter-spacing="3.3">2026</text><text x="2997.2" y="1959.8" font-size="32.8" fill="#131722" text-anchor="middle" letter-spacing="0">Feb</text><text x="3243.7" y="1959.8" font-size="32.8" fill="#131722" text-anchor="middle" letter-spacing="0">Mar</text></g><g fill="#131313"><path d="M24,2030 H48 V2060 H36 V2042 H24 Z"/><circle cx="58" cy="2036" r="6"/><path d="M70.3,2030 H83.8 L72.1,2060 H58.2 Z"/><rect x="98.1" y="2030" width="21.7" height="5.7"/><rect x="106.1" y="2030" width="5.7" height="29.7"/><path d="M120.1,2059.7 V2038.3 H125.8 V2041.6 C127.3,2039.4 129.8,2038.2 132.7,2038.3 V2043.9 C128.4,2043.8 125.8,2046.2 125.8,2050.2 V2059.7 Z"/><rect x="150.2" y="2038.3" width="5.7" height="21.4"/><rect x="176" y="2030" width="6" height="29.7"/><rect x="186.1" y="2038.3" width="5.9" height="21.4"/><circle cx="189" cy="2032.4" r="3.6"/><rect x="195.9" y="2038.3" width="5.9" height="21.4"/><rect x="236" y="2038.1" width="5.9" height="22"/><path d="M241.1,2030 H248.3 L256.6,2050.4 L265.2,2030 H271.6 L259.8,2059.8 H254.2 Z"/><rect x="274" y="2038" width="5.9" height="21.8"/><circle cx="277" cy="2032.5" r="3.6"/><path d="M305.9,2038 H312.1 L316.4,2051.5 L321,2038 H324.7 L329.2,2051.7 L334,2038 H340 L332.7,2059.8 H327.1 L323.1,2047.7 L318.8,2059.8 H313.2 Z"/><rect x="286.5" y="2046.1" width="19.2" height="3.8"/><g fill="none" stroke="#131313" stroke-width="5.7"><circle cx="144.8" cy="2048.95" r="8.6"/><circle cx="170.8" cy="2048.95" r="8.6"/><path d="M198.85,2059.7 V2047.35 A7,7 0 0 1 212.95,2047.35 V2059.7"/><circle cx="230.7" cy="2048.5" r="8.5"/><path d="M238.95,2059 C238.95,2064.8 235.2,2067.3 230.6,2067.3 C227.2,2067.3 224.2,2066 221.6,2064.2"/><path d="M303,2048.65 A8.3,8.3 0 1 0 301.5,2053.4"/></g></g></svg>
</body></html>
